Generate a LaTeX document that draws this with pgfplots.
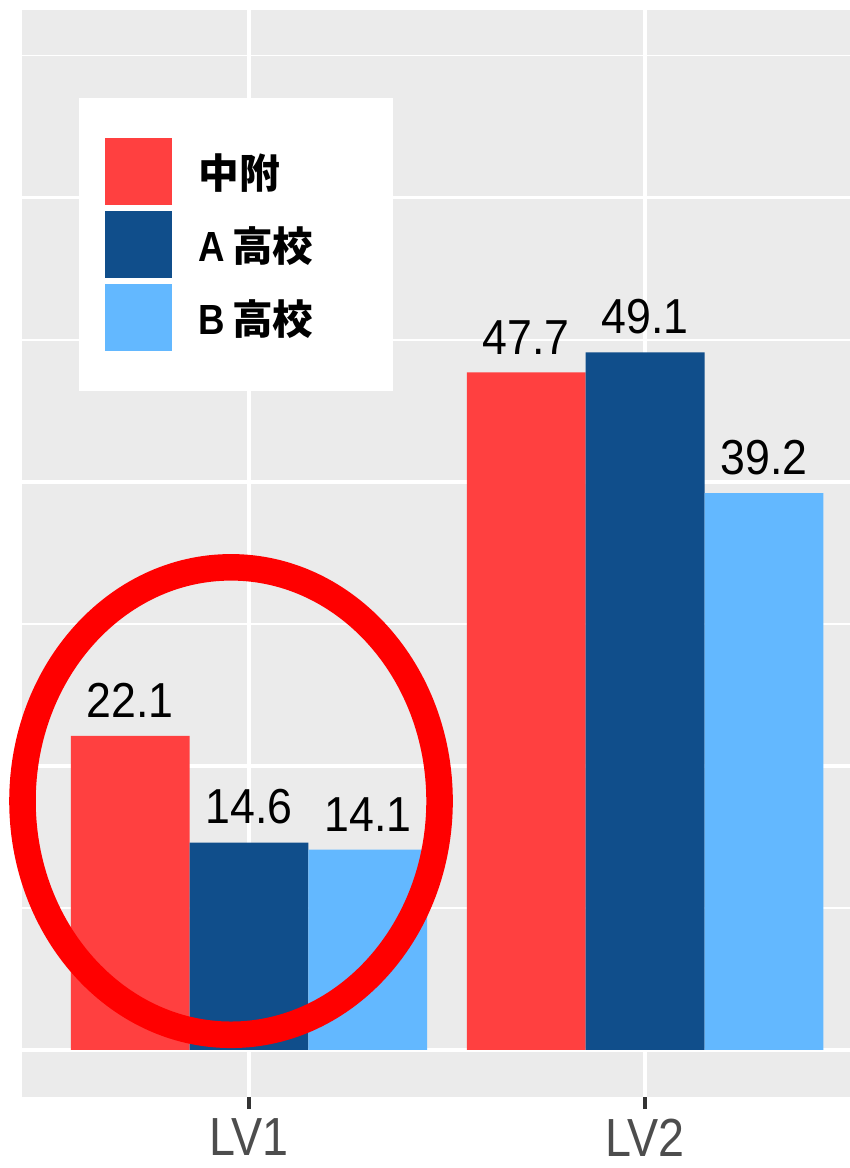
\documentclass[border=0pt]{standalone}
\usepackage{pgfplots}
\pgfplotsset{compat=1.18}
\usepackage{fontspec}
\usepackage{graphicx}
\setmainfont{Liberation Sans}
\newfontfamily\cjk{Noto Sans CJK JP}
\definecolor{cRed}{HTML}{FF4040}
\definecolor{cDark}{HTML}{104E8B}
\definecolor{cLight}{HTML}{63B8FF}
\definecolor{panel}{HTML}{EBEBEB}
\definecolor{tickc}{HTML}{333333}
\definecolor{labc}{HTML}{4D4D4D}
\newcommand{\latn}[1]{{\normalfont\bfseries\fontsize{27.5}{30}\selectfont\scalebox{1}[1.15]{#1}}}
\pgfplotsset{
  mylegend/.style={legend image code/.code={\fill[##1] (0pt,-25.125pt) rectangle (50.25pt,25.125pt);}},
  barstyle/.style={ybar, bar width=0.3, bar shift=0pt, draw=none, fill=#1, mylegend,
    nodes near coords={\scalebox{1}[1.1]{\pgfmathprintnumber[fixed,fixed zerofill,precision=1]{\pgfplotspointmeta}}},
    every node near coord/.append style={text=black, font=\fontsize{33.5}{35}\selectfont, anchor=south, inner sep=0pt, yshift=13.5pt}},
}
\begin{document}
\begin{tikzpicture}
\useasboundingbox (-16.5pt,-53.25pt) rectangle (621pt,822.75pt);
\begin{axis}[
  at={(0,0)}, anchor=south west,
  scale only axis, width=621pt, height=815.25pt,
  xmin=0.4269, xmax=2.5173, ymin=-3.31, ymax=73.2,
  clip=false,
  /pgf/number format/assume math mode=true,
  axis background/.style={fill=panel},
  axis line style={draw=none},
  xtick={1,2}, xticklabels={\scalebox{1}[1.15]{LV1},\scalebox{1}[1.15]{LV2}},
  xtick pos=bottom,
  ytick={0,20,40,60}, minor ytick={10,30,50,70},
  yticklabels={},
  ymajorgrids, yminorgrids, xmajorgrids,
  major grid style={white, line width=2.8pt},
  minor grid style={white, line width=1.4pt},
  tick align=outside,
  major tick length=9pt,
  x tick style={tickc, line width=3.2pt},
  y tick style={draw=none},
  minor tick style={draw=none},
  xticklabel style={font=\fontsize{35}{36}\selectfont, text=labc, anchor=north, inner sep=0pt, yshift=-7pt},
  legend style={at={(rel axis cs:0,1)}, anchor=north west, xshift=42.75pt, yshift=-66pt,
    fill=white, draw=none, inner xsep=19.5pt, inner ysep=30pt, row sep=4.5pt, column sep=20pt,
    font=\cjk\bfseries\fontsize{30.5}{32}\selectfont,
    nodes={inner sep=0pt, text width=126pt, align=left}},
  legend cell align=left,
]
\addplot[barstyle=cRed] coordinates {(0.7,22.1) (1.7,47.7)};
\addlegendentry{中附}
\addplot[barstyle=cDark] coordinates {(1.0,14.6) (2.0,49.1)};
\addlegendentry{\latn{A}\hspace{5pt}高校}
\addplot[barstyle=cLight] coordinates {(1.3,14.1) (2.3,39.2)};
\addlegendentry{\latn{B}\hspace{5pt}高校}
\draw[red, line width=19.9pt] (axis cs:0.9546,17.52) ellipse [x radius=156.4pt, y radius=175.3pt];
\end{axis}
\end{tikzpicture}
\end{document}
